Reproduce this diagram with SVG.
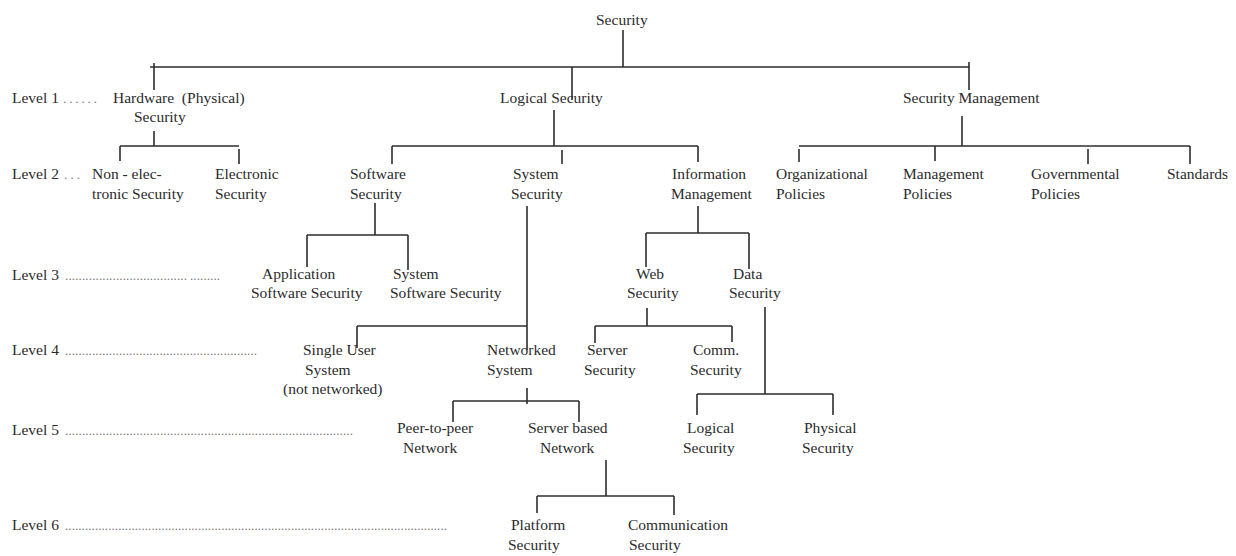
<svg xmlns="http://www.w3.org/2000/svg" width="1236" height="556" viewBox="0 0 1236 556">
<style>
text{font-family:"Liberation Serif","Times New Roman",serif;font-size:15.5px;fill:#2b2b2b}
.dots{fill:#777;font-size:13px}
.c path{fill:none;stroke:#2e2e2e;stroke-width:1.6}
</style>
<rect width="1236" height="556" fill="#fff"/>
<g id="levels">
<text x="12" y="103">Level 1</text><text class="dots" x="63" y="103" textLength="34" lengthAdjust="spacing">......</text>
<text x="12" y="179">Level 2</text><text class="dots" x="64" y="179" textLength="16" lengthAdjust="spacing">...</text>
<text x="12" y="280">Level 3</text><text class="dots" x="65" y="280" textLength="122" lengthAdjust="spacing">....................................</text><text class="dots" x="190" y="280" textLength="30" lengthAdjust="spacing">.........</text>
<text x="12" y="355">Level 4</text><text class="dots" x="65" y="355" textLength="192" lengthAdjust="spacing">.........................................................</text>
<text x="12" y="435">Level 5</text><text class="dots" x="65" y="435" textLength="288" lengthAdjust="spacing">.....................................................................................</text>
<text x="12" y="530">Level 6</text><text class="dots" x="65" y="530" textLength="382" lengthAdjust="spacing">...................................................................................................................</text>
</g>
<g class="c" id="connectors">
<path d="M623 30V67M150 67H969M154 63V90M572 67V100M969 62V90"/>
<path d="M154 131V146M120 146H239M120 146V161M239 149V164"/>
<path d="M554 110V146M392 146H698M392 146V164M562 150V164M698 146V162"/>
<path d="M962 116V146M799 146H1190M799 149V162M935 146V161M1088 149V164M1190 146V164"/>
<path d="M375 203V235M307 235H408M307 235V267M408 235V270"/>
<path d="M527 206V350M357 326H527M357 326V348"/>
<path d="M698 206V233M646 233H749M646 233V267M749 233V269"/>
<path d="M647 308V326M595 326H732M595 326V343M732 326V342"/>
<path d="M765 307V394M697 394H833M697 394V415M833 394V415"/>
<path d="M527 388V404M453 401H579M453 401V422M579 401V422"/>
<path d="M606 460V496M537 496H674M537 496V513M674 496V515"/>
</g>
<g id="root"><text x="596" y="25">Security</text></g>
<g id="hardware"><text x="113" y="103" xml:space="preserve">Hardware  (Physical)</text><text x="134" y="122">Security</text></g>
<g id="logical"><text x="500" y="103">Logical Security</text></g>
<g id="secmgmt"><text x="903" y="103">Security Management</text></g>
<g id="nonelec"><text x="92" y="179">Non - elec-</text><text x="92" y="199">tronic Security</text></g>
<g id="electronic"><text x="215" y="179">Electronic</text><text x="215" y="199">Security</text></g>
<g id="software"><text x="350" y="179">Software</text><text x="350" y="199">Security</text></g>
<g id="system"><text x="513" y="179">System</text><text x="511" y="199">Security</text></g>
<g id="infomgmt"><text x="672" y="179">Information</text><text x="671" y="199">Management</text></g>
<g id="org"><text x="776" y="179">Organizational</text><text x="776" y="199">Policies</text></g>
<g id="mgmtpol"><text x="903" y="179">Management</text><text x="903" y="199">Policies</text></g>
<g id="gov"><text x="1031" y="179">Governmental</text><text x="1031" y="199">Policies</text></g>
<g id="standards"><text x="1167" y="179">Standards</text></g>
<g id="appsw"><text x="262" y="279">Application</text><text x="251" y="298">Software Security</text></g>
<g id="syssw"><text x="393" y="279">System</text><text x="390" y="298">Software Security</text></g>
<g id="web"><text x="636" y="279">Web</text><text x="627" y="298">Security</text></g>
<g id="data"><text x="733" y="279">Data</text><text x="729" y="298">Security</text></g>
<g id="single"><text x="303" y="355">Single User</text><text x="305" y="375">System</text><text x="283" y="394">(not networked)</text></g>
<g id="networked"><text x="487" y="355">Networked</text><text x="487" y="375">System</text></g>
<g id="server"><text x="587" y="355">Server</text><text x="584" y="375">Security</text></g>
<g id="comm"><text x="693" y="355">Comm.</text><text x="690" y="375">Security</text></g>
<g id="p2p"><text x="397" y="433">Peer-to-peer</text><text x="403" y="453">Network</text></g>
<g id="serverbased"><text x="528" y="433">Server based</text><text x="540" y="453">Network</text></g>
<g id="logsec"><text x="687" y="433">Logical</text><text x="683" y="453">Security</text></g>
<g id="physsec"><text x="804" y="433">Physical</text><text x="802" y="453">Security</text></g>
<g id="platform"><text x="511" y="530">Platform</text><text x="508" y="550">Security</text></g>
<g id="commsec"><text x="628" y="530">Communication</text><text x="629" y="550">Security</text></g>
</svg>
